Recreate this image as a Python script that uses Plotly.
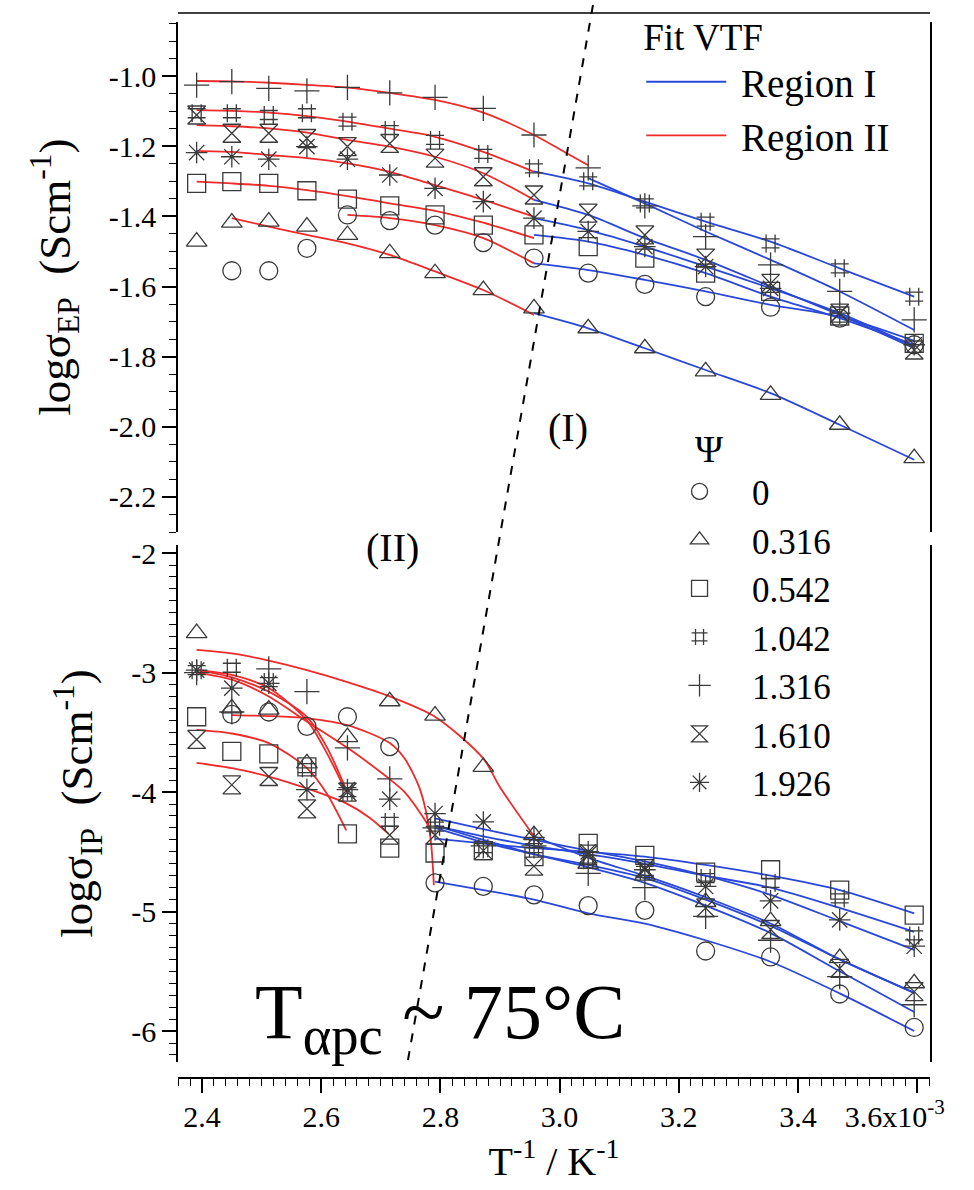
import plotly.graph_objects as go

# ---------------- data ----------------
inv_T = [2.391, 2.450, 2.512, 2.576, 2.644, 2.715, 2.791, 2.872,
         2.957, 3.048, 3.143, 3.245, 3.354, 3.470, 3.595]
psi_labels = ["0", "0.316", "0.542", "1.042", "1.316", "1.610", "1.926"]

# log sigma_EP (top panel)
ep_psi_0    = [None, -1.555, -1.555, -1.491, -1.396, -1.412, -1.425, -1.475, -1.519, -1.562, -1.594, -1.629, -1.659, -1.690, -1.766]
ep_psi_316  = [-1.472, -1.418, -1.415, -1.429, -1.453, -1.505, -1.562, -1.610, -1.662, -1.719, -1.776, -1.842, -1.909, -1.994, -2.089]
ep_psi_542  = [-1.306, -1.301, -1.306, -1.327, -1.351, -1.370, -1.396, -1.425, -1.453, -1.486, -1.519, -1.562, -1.614, -1.684, -1.762]
ep_psi_1042 = [-1.106, -1.106, -1.111, -1.106, -1.130, -1.154, -1.182, -1.222, -1.263, -1.300, -1.363, -1.415, -1.477, -1.548, -1.629]
ep_psi_1316 = [-1.026, -1.016, -1.035, -1.042, -1.032, -1.048, -1.061, -1.092, -1.168, -1.262, -1.370, -1.458, -1.538, -1.614, -1.695]
ep_psi_1610 = [-1.111, -1.163, -1.163, -1.178, -1.201, -1.192, -1.234, -1.287, -1.339, -1.391, -1.453, -1.519, -1.591, -1.676, -1.781]
ep_psi_1926 = [-1.218, -1.230, -1.237, -1.201, -1.237, -1.282, -1.320, -1.358, -1.405, -1.443, -1.486, -1.543, -1.605, -1.676, -1.766]

# log sigma_IP (bottom panel)
ip_psi_0    = [None, -3.35, -3.33, -3.45, -3.37, -3.62, -4.76, -4.79, -4.86, -4.95, -4.99, -5.33, -5.38, -5.69, -5.97]
ip_psi_316  = [-2.67, -3.30, -3.31, -3.76, -3.54, -3.24, -3.36, -3.79, -4.36, -4.60, -4.70, -4.92, -5.08, -5.39, -5.60]
ip_psi_542  = [-3.37, -3.66, -3.68, -3.79, -4.35, -4.47, -4.51, -4.49, -4.54, -4.43, -4.53, -4.67, -4.65, -4.82, -5.03]
ip_psi_1042 = [-2.98, -2.96, -3.08, -3.80, -4.00, -4.25, -4.29, -4.47, -4.47, -4.57, -4.66, -4.72, -4.76, -4.89, -5.20]
ip_psi_1316 = [-3.00, -3.33, -2.97, -3.16, -3.63, -3.89, -4.30, -4.45, -4.45, -4.68, -4.80, -5.04, -5.24, -5.545, -5.78]
ip_psi_1610 = [-3.56, -3.94, -3.87, -4.14, -4.00, -4.36, -4.36, -4.49, -4.62, -4.52, -4.64, -4.97, -5.15, -5.475, -5.67]
ip_psi_1926 = [-2.98, -3.13, -3.09, -3.98, -3.98, -4.06, -4.18, -4.25, -4.38, -4.50, -4.65, -4.79, -4.91, -5.07, -5.29]

# VTF fits, Region II (red), top panel
fit2_ep_0_x    = [2.644, 2.715, 2.791, 2.872, 2.957]
fit2_ep_0_y    = [-1.396, -1.405, -1.425, -1.462, -1.534]
fit2_ep_316_x  = [2.450, 2.512, 2.576, 2.644, 2.715, 2.791, 2.872, 2.957]
fit2_ep_316_y  = [-1.405, -1.429, -1.453, -1.477, -1.510, -1.557, -1.610, -1.681]
fit2_ep_542_x  = [2.391, 2.450, 2.512, 2.576, 2.644, 2.715, 2.791, 2.872, 2.957]
fit2_ep_542_y  = [-1.301, -1.306, -1.313, -1.325, -1.342, -1.363, -1.384, -1.418, -1.462]
fit2_ep_1042_x = [2.391, 2.450, 2.512, 2.576, 2.644, 2.715, 2.791, 2.872, 2.957]
fit2_ep_1042_y = [-1.097, -1.099, -1.104, -1.114, -1.130, -1.150, -1.173, -1.216, -1.273]
fit2_ep_1316_x = [2.391, 2.450, 2.512, 2.576, 2.644, 2.715, 2.791, 2.872, 2.957, 3.012, 3.048]
fit2_ep_1316_y = [-1.014, -1.015, -1.019, -1.025, -1.033, -1.048, -1.068, -1.104, -1.168, -1.220, -1.254]
fit2_ep_1610_x = [2.391, 2.450, 2.512, 2.576, 2.644, 2.715, 2.791, 2.872, 2.957]
fit2_ep_1610_y = [-1.140, -1.143, -1.149, -1.161, -1.182, -1.201, -1.230, -1.277, -1.353]
fit2_ep_1926_x = [2.391, 2.450, 2.512, 2.576, 2.644, 2.715, 2.791, 2.872, 2.957]
fit2_ep_1926_y = [-1.213, -1.216, -1.225, -1.234, -1.249, -1.273, -1.311, -1.353, -1.401]

# VTF fits, Region I (blue), top panel
fit1_ep_x      = [2.957, 3.048, 3.143, 3.245, 3.354, 3.470, 3.595]
fit1_ep_0_y    = [-1.534, -1.553, -1.581, -1.614, -1.652, -1.686, -1.755]
fit1_ep_316_y  = [-1.676, -1.719, -1.776, -1.838, -1.904, -1.994, -2.094]
fit1_ep_542_y  = [-1.453, -1.472, -1.510, -1.562, -1.629, -1.690, -1.766]
fit1_ep_1042_y = [-1.272, -1.306, -1.358, -1.415, -1.472, -1.548, -1.629]
fit1_ep_1316_x = [3.048, 3.143, 3.245, 3.354, 3.470, 3.595]
fit1_ep_1316_y = [-1.291, -1.363, -1.443, -1.524, -1.614, -1.724]
fit1_ep_1610_y = [-1.353, -1.396, -1.462, -1.524, -1.600, -1.681, -1.776]
fit1_ep_1926_y = [-1.405, -1.439, -1.486, -1.543, -1.605, -1.676, -1.771]

# VTF fits, Region II (red), bottom panel
fit2_ip_0_x    = [2.450, 2.512, 2.576, 2.644, 2.715, 2.740, 2.766, 2.783, 2.789]
fit2_ip_0_y    = [-3.356, -3.364, -3.383, -3.44, -3.59, -3.72, -3.98, -4.37, -4.78]
fit2_ip_316_x  = [2.391, 2.450, 2.512, 2.576, 2.644, 2.715, 2.791, 2.872, 2.900, 2.957]
fit2_ip_316_y  = [-2.81, -2.84, -2.90, -2.98, -3.08, -3.20, -3.37, -3.72, -3.96, -4.37]
fit2_ip_542_x  = [2.391, 2.450, 2.512, 2.576, 2.609, 2.642]
fit2_ip_542_y  = [-3.48, -3.51, -3.59, -3.80, -4.01, -4.32]
fit2_ip_1042_x = [2.391, 2.450, 2.512, 2.576, 2.609, 2.642]
fit2_ip_1042_y = [-2.98, -3.04, -3.16, -3.37, -3.62, -3.98]
fit2_ip_1316_x = [2.391, 2.450, 2.512, 2.576, 2.644, 2.713, 2.740, 2.771, 2.788]
fit2_ip_1316_y = [-3.00, -3.06, -3.20, -3.41, -3.63, -3.885, -4.00, -4.21, -4.35]
fit2_ip_1610_x = [2.391, 2.450, 2.512, 2.576, 2.642, 2.680, 2.713]
fit2_ip_1610_y = [-3.755, -3.80, -3.87, -3.97, -4.095, -4.21, -4.35]
fit2_ip_1926_x = [2.391, 2.450, 2.512, 2.576, 2.609, 2.642]
fit2_ip_1926_y = [-2.98, -3.02, -3.13, -3.40, -3.67, -4.00]

# VTF fits, Region I (blue), bottom panel
fit1_ip_x      = [2.791, 2.872, 2.957, 3.048, 3.143, 3.245, 3.354, 3.470, 3.595]
fit1_ip_0_y    = [-4.75, -4.82, -4.90, -5.015, -5.10, -5.24, -5.42, -5.685, -6.00]
fit1_ip_542_y  = [-4.39, -4.43, -4.47, -4.50, -4.54, -4.61, -4.70, -4.82, -5.015]
fit1_ip_1042_y = [-4.28, -4.37, -4.45, -4.52, -4.60, -4.70, -4.80, -4.97, -5.17]
fit1_ip_1316_y = [-4.28, -4.40, -4.52, -4.63, -4.76, -4.95, -5.18, -5.50, -5.84]
fit1_ip_1610_y = [-4.30, -4.42, -4.52, -4.61, -4.72, -4.90, -5.12, -5.40, -5.68]
fit1_ip_1926_y = [-4.22, -4.31, -4.40, -4.49, -4.58, -4.70, -4.86, -5.08, -5.32]
fit1_ip_316_x  = [2.957, 3.048, 3.143, 3.245, 3.354, 3.470, 3.595]
fit1_ip_316_y  = [-4.37, -4.55, -4.70, -4.88, -5.10, -5.40, -5.68]

# T_alpha_pc boundary (dashed), x at bottom and top of the figure
tapc_line_x = [2.7456, 3.056]

NB = "\u00a0"
x_tickvals = [2.4, 2.6, 2.8, 3.0, 3.2, 3.4, 3.6]
x_ticktext = ["2.4", "2.6", "2.8", "3.0", "3.2", "3.4", "3.6x10<sup>-3</sup>" + NB * 6]
ep_tickvals = [-1.0, -1.2, -1.4, -1.6, -1.8, -2.0, -2.2]
ep_ticktext = ["-1.0", "-1.2", "-1.4", "-1.6", "-1.8", "-2.0", "-2.2"]
ip_tickvals = [-2, -3, -4, -5, -6]
ip_ticktext = ["-2", "-3", "-4", "-5", "-6"]

# ---------------- styles ----------------
FONT = "Liberation Serif"
BLUE = "#2a48d8"
RED = "#ee2a2a"
MK = "#3a3a3a"
symbols = ["circle-open", "triangle-up-open", "square-open", "hash-open",
           "cross-thin-open", "hourglass-open", "asterisk-open"]

fig = go.Figure()

ep_series = [ep_psi_0, ep_psi_316, ep_psi_542, ep_psi_1042, ep_psi_1316, ep_psi_1610, ep_psi_1926]
ip_series = [ip_psi_0, ip_psi_316, ip_psi_542, ip_psi_1042, ip_psi_1316, ip_psi_1610, ip_psi_1926]

fits_red_ep = [(fit2_ep_0_x, fit2_ep_0_y), (fit2_ep_316_x, fit2_ep_316_y), (fit2_ep_542_x, fit2_ep_542_y),
               (fit2_ep_1042_x, fit2_ep_1042_y), (fit2_ep_1316_x, fit2_ep_1316_y),
               (fit2_ep_1610_x, fit2_ep_1610_y), (fit2_ep_1926_x, fit2_ep_1926_y)]
fits_blue_ep = [(fit1_ep_x, fit1_ep_0_y), (fit1_ep_x, fit1_ep_316_y), (fit1_ep_x, fit1_ep_542_y),
                (fit1_ep_x, fit1_ep_1042_y), (fit1_ep_1316_x, fit1_ep_1316_y),
                (fit1_ep_x, fit1_ep_1610_y), (fit1_ep_x, fit1_ep_1926_y)]
fits_red_ip = [(fit2_ip_0_x, fit2_ip_0_y), (fit2_ip_316_x, fit2_ip_316_y), (fit2_ip_542_x, fit2_ip_542_y),
               (fit2_ip_1042_x, fit2_ip_1042_y), (fit2_ip_1316_x, fit2_ip_1316_y),
               (fit2_ip_1610_x, fit2_ip_1610_y), (fit2_ip_1926_x, fit2_ip_1926_y)]
fits_blue_ip = [(fit1_ip_x, fit1_ip_0_y), (fit1_ip_316_x, fit1_ip_316_y), (fit1_ip_x, fit1_ip_542_y),
                (fit1_ip_x, fit1_ip_1042_y), (fit1_ip_x, fit1_ip_1316_y),
                (fit1_ip_x, fit1_ip_1610_y), (fit1_ip_x, fit1_ip_1926_y)]

first_blue = True
first_red = True
for fits, color, yax in [(fits_blue_ep, BLUE, "y"), (fits_red_ep, RED, "y"),
                         (fits_blue_ip, BLUE, "y2"), (fits_red_ip, RED, "y2")]:
    for fx, fy in fits:
        show = False
        name = NB + "Region I" if color == BLUE else NB + "Region II"
        if color == BLUE and first_blue:
            show, first_blue = True, False
        if color == RED and first_red:
            show, first_red = True, False
        fig.add_trace(go.Scatter(
            x=fx, y=fy, mode="lines", yaxis=yax, xaxis="x",
            line=dict(color=color, width=1.8, shape="spline", smoothing=0.8),
            name=name, legend="legend", legendgroup=name, showlegend=show,
            hoverinfo="skip"))

for i, lab in enumerate(psi_labels):
    for series, yax, show in [(ep_series[i], "y", True), (ip_series[i], "y2", False)]:
        fig.add_trace(go.Scatter(
            x=inv_T, y=series, mode="markers", yaxis=yax, xaxis="x",
            marker=dict(symbol=symbols[i], size=18, color=MK,
                        line=dict(width=1.3, color=MK)),
            name=NB * 2 + lab, legend="legend2", legendgroup="psi" + lab, showlegend=show))

axis_common = dict(showline=True, linecolor="black", linewidth=1.5, ticks="outside",
                   ticklen=14, tickwidth=1.5, tickcolor="black", showgrid=False,
                   zeroline=False, automargin=False,
                   tickfont=dict(family=FONT, size=30, color="black"))

fig.update_layout(
    width=974, height=1190,
    margin=dict(l=178, r=44, t=5, b=112, autoexpand=False),
    paper_bgcolor="white", plot_bgcolor="white",
    font=dict(family=FONT, color="black"),
    xaxis=dict(domain=[0, 1], range=[2.3597, 3.6215], anchor="free", position=0,
               tickmode="array", tickvals=x_tickvals, ticktext=x_ticktext,
               ticklabelstandoff=-2, ticklabeloverflow="allow",
               minor=dict(tickmode="linear", tick0=2.4, dtick=0.02, ticklen=7,
                          tickwidth=1.2, tickcolor="black", ticks="outside"),
               title=dict(text="T<sup>-1</sup> / K<sup>-1</sup>",
                          font=dict(family=FONT, size=40), standoff=0),
               **axis_common),
    yaxis=dict(domain=[0.5088, 0.9841], range=[-2.30, -0.846], anchor="x", mirror=True,
               tickmode="array", tickvals=ep_tickvals, ticktext=ep_ticktext,
               minor=dict(tickmode="linear", tick0=-1.0, dtick=0.05, ticklen=7,
                          tickwidth=1.2, tickcolor="black", ticks="outside"),
               title=dict(text="logσ<sub>EP</sub>  (Scm<sup>-1</sup>)",
                          font=dict(family=FONT, size=45), standoff=24),
               **axis_common),
    yaxis2=dict(domain=[0.0149, 0.4967], range=[-6.259, -1.933], anchor="x", mirror=True,
                tickmode="array", tickvals=ip_tickvals, ticktext=ip_ticktext,
                minor=dict(tickmode="linear", tick0=-2, dtick=0.1, ticklen=7,
                           tickwidth=1.2, tickcolor="black", ticks="outside"),
                title=dict(text="logσ<sub>IP</sub>  (Scm<sup>-1</sup>)",
                           font=dict(family=FONT, size=45), standoff=24),
                **axis_common),
    legend=dict(x=0.616, y=1.003, xanchor="left", yanchor="top",
                bgcolor="rgba(0,0,0,0)", borderwidth=0,
                font=dict(family=FONT, size=39, color="black"),
                title=dict(text="Fit VTF", font=dict(family=FONT, size=37)),
                itemwidth=80, tracegroupgap=0, traceorder="normal"),
    legend2=dict(x=0.647, y=0.62, xanchor="left", yanchor="top",
                 bgcolor="rgba(0,0,0,0)", borderwidth=0,
                 font=dict(family=FONT, size=35, color="black"),
                 title=dict(text=NB * 3 + "Ψ", side="top", font=dict(family=FONT, size=38)),
                 itemwidth=60, tracegroupgap=0, traceorder="normal"),
    shapes=[
        dict(type="line", xref="paper", yref="paper", x0=0, x1=1, y0=0.9925, y1=0.9925,
             line=dict(color="black", width=1.5)),
        dict(type="line", xref="x", yref="paper", x0=tapc_line_x[0], x1=tapc_line_x[1],
             y0=0.0168, y1=1.0, line=dict(color="black", width=2, dash="dash")),
    ],
    annotations=[
        dict(text="(I)", xref="x", yref="paper", x=3.014, y=0.606, showarrow=False,
             font=dict(family=FONT, size=40)),
        dict(text="(II)", xref="x", yref="paper", x=2.719, y=0.494, showarrow=False,
             font=dict(family=FONT, size=40)),
        dict(text="T<sub>αpc</sub> ~ 75°C", xref="x", yref="paper", x=2.80, y=0.009,
             showarrow=False, font=dict(family=FONT, size=78)),
    ],
)

fig.write_html("out.html", config={"displayModeBar": False},
               post_script="document.body.style.margin='0';")
